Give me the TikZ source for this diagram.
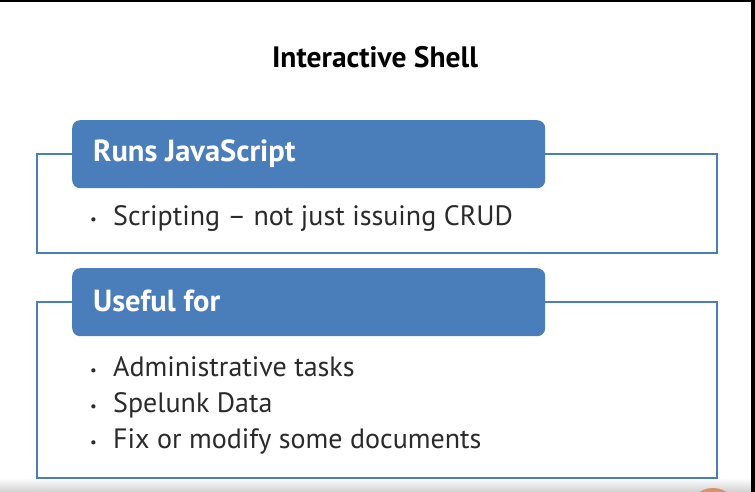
\documentclass[tikz,border=0pt]{standalone}
\usepackage{fontspec}
\setmainfont{PT Sans}
\usepackage{tikz}
\usetikzlibrary{positioning}
\definecolor{hdrblue}{HTML}{4A7EBB}
\definecolor{txtgray}{HTML}{2A2A2A}
\definecolor{dotorange}{HTML}{D9916A}
\newcommand{\bdot}{\makebox[23pt][l]{\raisebox{1pt}{\fontsize{15}{15}\selectfont\textbullet}}}
\begin{document}
\begin{tikzpicture}[x=1pt,y=-1pt]
  \tikzset{outline/.style = {draw=hdrblue, line width=1.6pt},
           header/.style = {fill=hdrblue, rounded corners=8pt, minimum width=473pt, minimum height=68pt,
                            anchor=north west, inner sep=0pt},
           headtext/.style = {anchor=west, text=white, font=\fontsize{30.5}{32}\selectfont\bfseries, inner sep=0pt},
           bullet/.style = {anchor=west, text=txtgray, font=\fontsize{28}{30}\selectfont, inner sep=0pt}}
  \useasboundingbox (0,0) rectangle (755,492);
  \fill[white] (0,0) rectangle (755,492);
  % footer band
  \shade[top color=white, bottom color=black!18] (0,478) rectangle (755,492);
  \begin{scope}
    \clip (0,0) rectangle (755,492);
    \fill[dotorange] (713,513) circle (25);
  \end{scope}
  \fill[black] (0,0) rectangle (755,2);
  \fill[black] (751,0) rectangle (755,492);
  % title
  \node[text=black, font=\fontsize{29.5}{32}\selectfont\bfseries] (title) at (375,57) {Interactive Shell};
  % first block
  \draw[outline] (37,154) rectangle (717,253);
  \node[header] (runs) at (72,120) {};
  \node[headtext] (runstxt) at (93,154) {Runs JavaScript};
  \node[bullet] (b1) at (90,218) {\bdot Scripting -- not just issuing CRUD};
  % second block
  \draw[outline] (37,302) rectangle (717,478);
  \node[header] (useful) at (72,268) {};
  \node[headtext] (usefultxt) at (93,301) {Useful for};
  \node[bullet] (b2) at (90,367) {\bdot Administrative tasks};
  \node[bullet] (b3) at (90,405) {\bdot Spelunk Data};
  \node[bullet] (b4) at (90,441) {\bdot Fix or modify some documents};
\end{tikzpicture}
\end{document}
